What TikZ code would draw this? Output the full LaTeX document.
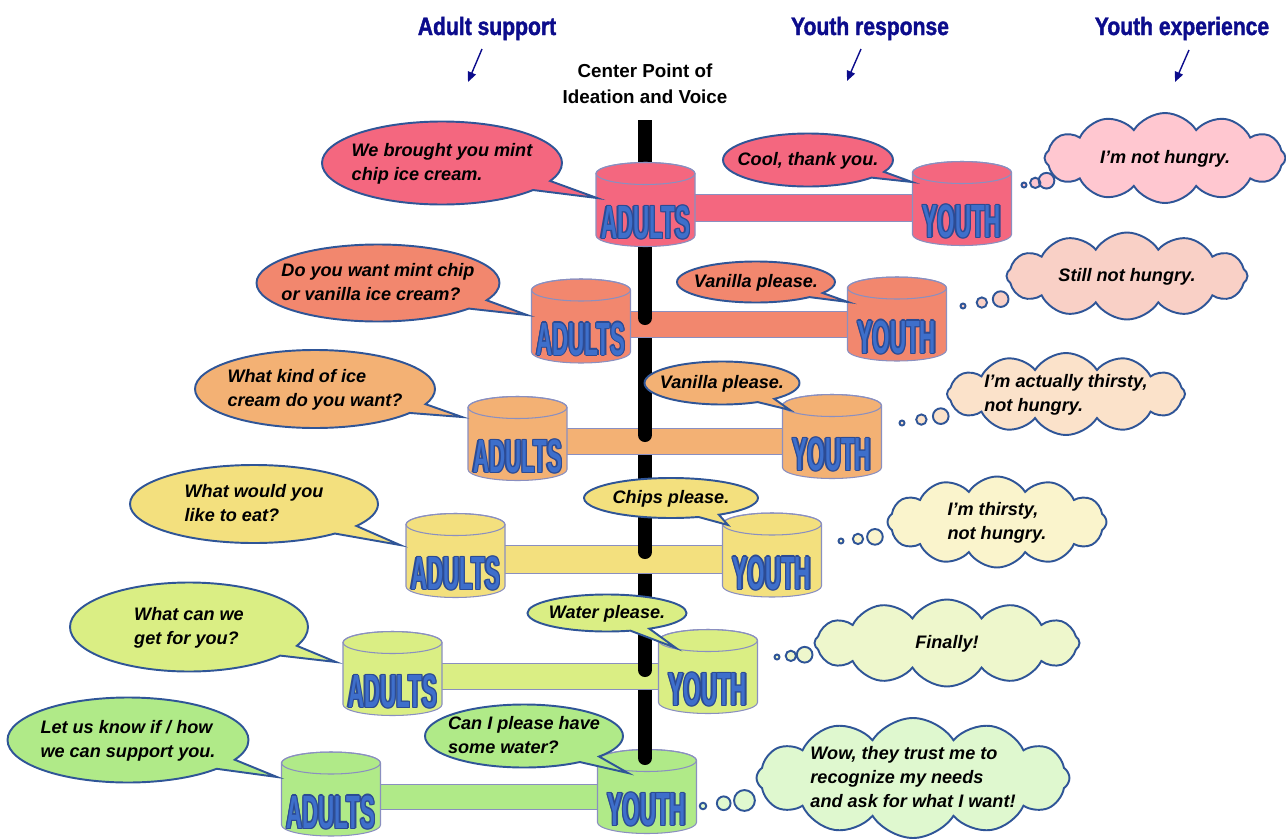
\documentclass[tikz,border=0pt]{standalone}
\usepackage{fontspec}
\setmainfont{Liberation Sans}
\newfontfamily\headfont[FakeStretch=0.84,FakeBold=1.5]{Liberation Sans}
\newfontfamily\canfont[FakeStretch=0.48]{Liberation Sans}
\usetikzlibrary{shapes.geometric,shapes.symbols,shapes.callouts,arrows.meta,backgrounds}

\definecolor{navyhead}{HTML}{0C0C8C}
\definecolor{bubline}{HTML}{2F5597}
\definecolor{canline}{HTML}{8A8FC0}
\definecolor{lblfill}{HTML}{3E6FCB}
\definecolor{lblline}{HTML}{2C4B94}
\definecolor{rowa}{HTML}{F4677F}
\definecolor{rowb}{HTML}{F2876E}
\definecolor{rowc}{HTML}{F3B174}
\definecolor{rowd}{HTML}{F3E07E}
\definecolor{rowe}{HTML}{DAEE84}
\definecolor{rowf}{HTML}{B0EA88}
\definecolor{clda}{HTML}{FFC7D0}
\definecolor{cldb}{HTML}{F9D0C6}
\definecolor{cldc}{HTML}{FBE2CA}
\definecolor{cldd}{HTML}{FAF4CC}
\definecolor{clde}{HTML}{EEF7CC}
\definecolor{cldf}{HTML}{DFF8CF}

\newdimen\pxu \pxu=0.02cm
\newcommand\bubfont{\fontsize{10.3}{13.6}\selectfont\bfseries\itshape}
\newcommand\ltxt[1]{\makebox[0pt]{\smash{\raisebox{-.28em}{\begin{tabular}{@{}l@{}}#1\end{tabular}}}}}
\newcommand\ctxt[1]{\makebox[0pt]{\smash{\raisebox{-.28em}{\begin{tabular}{@{}c@{}}#1\end{tabular}}}}}
% outlined can label: dark copies around, blue on top
\newcommand\lblcopy[3]{\rlap{\hspace*{#1}\raisebox{#2}{\color{lblline}#3}}}
\newcommand\cantxt[1]{{\fontsize{26.5}{30}\selectfont\bfseries\canfont
	\lblcopy{0.75pt}{0pt}{#1}\lblcopy{-0.75pt}{0pt}{#1}\lblcopy{0pt}{0.75pt}{#1}\lblcopy{0pt}{-0.75pt}{#1}%
	\lblcopy{0.55pt}{0.55pt}{#1}\lblcopy{-0.55pt}{0.55pt}{#1}\lblcopy{0.55pt}{-0.55pt}{#1}\lblcopy{-0.55pt}{-0.55pt}{#1}%
	{\color{lblfill}#1}}}
% can: name, x, y, colour, label
\newcommand\can[5]{%
	\draw[can,fill=#4] ({#2-49.5},{#3-31}) -- ({#2-49.5},{#3+31})
		arc[start angle=180,end angle=360,x radius=49.5\pxu,y radius=11\pxu]
		-- ({#2+49.5},{#3-31})
		arc[start angle=0,end angle=180,x radius=49.5\pxu,y radius=11\pxu] -- cycle;
	\draw[can] (#2,{#3-31}) ellipse[x radius=49.5\pxu,y radius=11\pxu];
	\node[inner sep=0pt] (#1) at (#2,{#3+18}) {\cantxt{#5}};}

\begin{document}
\begin{tikzpicture}[x=0.02cm,y=-0.02cm]
	\tikzstyle{can}=[draw=canline,line width=0.6pt]
	\tikzstyle{bar}=[draw=canline,line width=0.5pt]
	\tikzstyle{pole}=[line width=14\pxu,black]
	\tikzstyle{bub}=[ellipse callout,draw=bubline,line width=1.1pt,inner sep=0pt,font=\bubfont]
	\tikzstyle{thought}=[cloud callout,draw=bubline,line width=1.1pt,inner sep=0pt,font=\bubfont,cloud puffs=12,cloud puff arc=115,cloud ignores aspect,callout pointer segments=3,callout pointer start size=0.42cm,callout pointer end size=0.1cm]
	\tikzstyle{head}=[text=navyhead,font={\fontsize{14.3}{17}\selectfont\headfont\bfseries},anchor=base]
	\tikzstyle{hdarrow}=[draw=navyhead,line width=0.8pt,-{Triangle[length=0.2cm,width=0.17cm]}]

	\useasboundingbox (0,0) rectangle (1286,839);

	% headings
	\node[head] (hadult) at (487,35) {Adult support};
	\node[head] (hresp) at (870,35) {Youth response};
	\node[head] (hexp) at (1182,35) {Youth experience};
	\draw[hdarrow] (482,49) -- (468,82);
	\draw[hdarrow] (861,49) -- (847,81);
	\draw[hdarrow] (1189,50) -- (1175,82);
	\node[align=center,font={\fontsize{10.7}{14.7}\selectfont\bfseries}] (cpt) at (645,84) {Center Point of\\Ideation and Voice};

	% cans
	\can{a1}{645.5}{204.5}{rowa}{ADULTS}
	\can{y1}{962}{203.5}{rowa}{YOUTH}
	\can{a2}{581}{321}{rowb}{ADULTS}
	\can{y2}{897}{319}{rowb}{YOUTH}
	\can{a3}{517.5}{438.5}{rowc}{ADULTS}
	\can{y3}{832}{436.5}{rowc}{YOUTH}
	\can{a4}{455.5}{555.5}{rowd}{ADULTS}
	\can{y4}{772}{555}{rowd}{YOUTH}
	\can{a5}{392.5}{673.5}{rowe}{ADULTS}
	\can{y5}{708}{671.5}{rowe}{YOUTH}
	\can{a6}{331}{794}{rowf}{ADULTS}
	\can{y6}{647}{791.5}{rowf}{YOUTH}

	% pole and bars behind the cans
	\begin{scope}[on background layer]
		\draw[pole] (645,120) -- (645,765);
		\draw[bar,fill=rowa] ([yshift=28\pxu]a1.center) rectangle (y1.center);
		\draw[bar,fill=rowb] ([yshift=28\pxu]a2.center) rectangle (y2.center);
		\draw[bar,fill=rowc] ([yshift=28\pxu]a3.center) rectangle (y3.center);
		\draw[bar,fill=rowd] ([yshift=28\pxu]a4.center) rectangle (y4.center);
		\draw[bar,fill=rowe] ([yshift=28\pxu]a5.center) rectangle (y5.center);
		\draw[bar,fill=rowf] ([yshift=28\pxu]a6.center) rectangle (y6.center);
		\draw[pole,line cap=round] (645,304) -- (645,318);
		\draw[pole,line cap=round] (645,421) -- (645,435);
		\draw[pole,line cap=round] (645,538) -- (645,552);
		\draw[pole,line cap=round] (645,656) -- (645,670);
	\end{scope}
	\draw[pole,line cap=round] (645,700) -- (645,758);

	% adult speech
	\node[bub,fill=rowa,minimum width=240\pxu,minimum height=83\pxu,callout absolute pointer={(597,198)}] (sa1) at (442,163) {\ltxt{We brought you mint\\chip ice cream.}};
	\node[bub,fill=rowb,minimum width=243\pxu,minimum height=77\pxu,callout absolute pointer={(527,315)}] (sa2) at (378,283) {\ltxt{Do you want mint chip\\or vanilla ice cream?}};
	\node[bub,fill=rowc,minimum width=240\pxu,minimum height=78\pxu,callout absolute pointer={(462,417)}] (sa3) at (315,389) {\ltxt{What kind of ice\\cream do you want?}};
	\node[bub,fill=rowd,minimum width=248\pxu,minimum height=78\pxu,callout absolute pointer={(400,545)}] (sa4) at (254,504) {\ltxt{What would you\\like to eat?}};
	\node[bub,fill=rowe,minimum width=238\pxu,minimum height=89\pxu,callout absolute pointer={(336,662)}] (sa5) at (189,627) {\ltxt{What can we\\get for you?}};
	\node[bub,fill=rowf,minimum width=241\pxu,minimum height=85\pxu,callout absolute pointer={(277,777)}] (sa6) at (128,740) {\ltxt{Let us know if / how\\we can support you.}};

	% youth speech
	\node[bub,fill=rowa,minimum width=170\pxu,minimum height=53\pxu,callout absolute pointer={(912,182)}] (sy1) at (808,160) {\ctxt{Cool, thank you.}};
	\node[bub,fill=rowb,minimum width=158\pxu,minimum height=41\pxu,callout absolute pointer={(848,302)}] (sy2) at (756,282) {\ctxt{Vanilla please.}};
	\node[bub,fill=rowc,minimum width=155\pxu,minimum height=43\pxu,callout absolute pointer={(790,410)}] (sy3) at (722,383) {\ctxt{Vanilla please.}};
	\node[bub,fill=rowd,minimum width=174\pxu,minimum height=40\pxu,callout absolute pointer={(728,525)}] (sy4) at (671,498) {\ctxt{Chips please.}};
	\node[bub,fill=rowe,minimum width=159\pxu,minimum height=37\pxu,callout absolute pointer={(676,648)}] (sy5) at (607,613) {\ctxt{Water please.}};
	\node[bub,fill=rowf,minimum width=198\pxu,minimum height=63\pxu,callout absolute pointer={(628,773)}] (sy6) at (524,736) {\ltxt{Can I please have\\some water?}};

	% youth thoughts
	\node[thought,fill=clda,minimum width=241\pxu,minimum height=90\pxu,callout absolute pointer={(1024,185)}] (k1) at (1165,158) {\ctxt{I’m not hungry.}};
	\node[thought,fill=cldb,minimum width=241\pxu,minimum height=87\pxu,callout absolute pointer={(963,306)}] (k2) at (1127,276) {\ctxt{Still not hungry.}};
	\node[thought,fill=cldc,minimum width=238\pxu,minimum height=82\pxu,callout absolute pointer={(902,423)}] (k3) at (1066,394) {\ltxt{I’m actually thirsty,\\not hungry.}};
	\node[thought,fill=cldd,minimum width=219\pxu,minimum height=91\pxu,callout absolute pointer={(841,541)}] (k4) at (997,522) {\ltxt{I’m thirsty,\\not hungry.}};
	\node[thought,fill=clde,minimum width=265\pxu,minimum height=87\pxu,callout absolute pointer={(777,657)}] (k5) at (947,643) {\ctxt{Finally!}};
	\node[thought,fill=cldf,minimum width=313\pxu,minimum height=120\pxu,callout pointer start size=0.56cm,callout pointer end size=0.13cm,callout absolute pointer={(703,806)}] (k6) at (913,778) {\ltxt{Wow, they trust me to\\recognize my needs\\and ask for what I want!}};
\end{tikzpicture}
\end{document}
